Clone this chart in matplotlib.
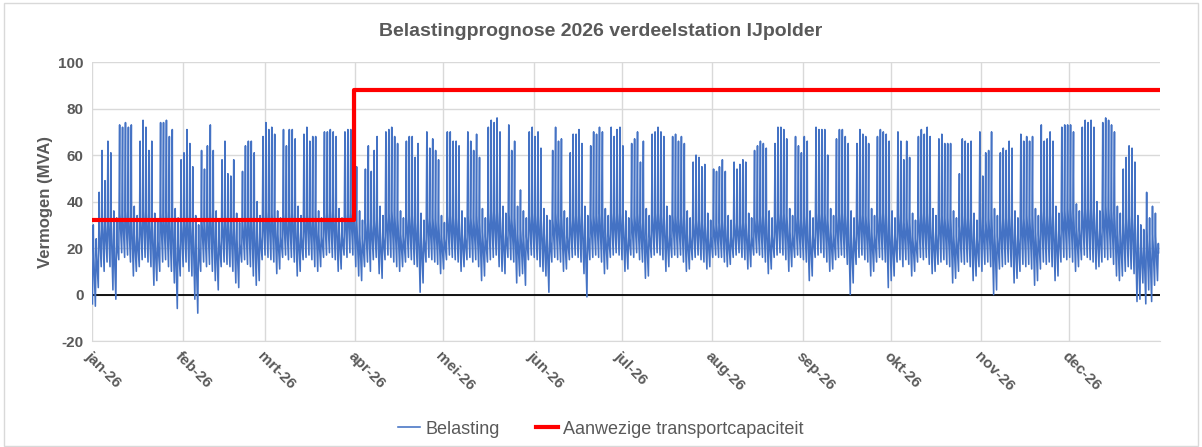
import numpy as np
import matplotlib
matplotlib.use('Agg')
import matplotlib.pyplot as plt
from matplotlib.patches import Rectangle

plt.rcParams['font.family'] = ['Liberation Sans', 'DejaVu Sans']
plt.rcParams['axes.unicode_minus'] = False

# maanden op de x-as (dag van het jaar waarop de maand begint)
maand_labels = ['jan-26', 'feb-26', 'mrt-26', 'apr-26', 'mei-26', 'jun-26',
                'jul-26', 'aug-26', 'sep-26', 'okt-26', 'nov-26', 'dec-26']
maand_start = [0, 31, 59, 90, 120, 151, 181, 212, 243, 273, 304, 334]

# dagpiek (MVA), per week ma..zo, eerste rij = za/zo van de eerste week
dag_max = [
    30, 24,
    44, 62, 49, 66, 61, 36, 33,
    73, 72, 74, 72, 73, 38, 34,
    66, 75, 72, 62, 66, 35, 32,
    74, 74, 75, 68, 71, 37, 33,
    58, 61, 71, 65, 55, 34, 30,
    62, 54, 64, 73, 62, 36, 32,
    58, 66, 52, 51, 58, 35, 31,
    53, 64, 66, 66, 61, 40, 34,
    68, 74, 71, 72, 69, 36, 33,
    71, 64, 71, 71, 67, 38, 34,
    69, 72, 66, 68, 68, 36, 33,
    70, 70, 71, 70, 68, 37, 33,
    70, 71, 71, 74, 55, 36, 32,
    54, 64, 53, 62, 68, 38, 34,
    70, 71, 72, 68, 65, 36, 33,
    66, 68, 68, 59, 65, 35, 32,
    70, 63, 67, 62, 58, 34, 31,
    70, 70, 66, 66, 64, 36, 33,
    70, 66, 62, 69, 59, 37, 33,
    72, 75, 74, 76, 70, 38, 35,
    73, 62, 66, 38, 45, 36, 33,
    70, 72, 68, 70, 63, 37, 34,
    32, 62, 72, 66, 67, 36, 33,
    61, 69, 69, 71, 65, 38, 34,
    64, 70, 69, 72, 70, 37, 34,
    72, 68, 71, 72, 64, 36, 33,
    65, 67, 70, 57, 66, 37, 34,
    69, 70, 72, 70, 68, 38, 34,
    68, 69, 66, 68, 65, 36, 33,
    57, 60, 59, 55, 56, 35, 32,
    54, 53, 55, 58, 53, 34, 32,
    57, 54, 56, 58, 57, 35, 33,
    62, 64, 66, 65, 63, 36, 33,
    65, 72, 72, 71, 67, 37, 34,
    68, 64, 61, 68, 66, 36, 33,
    72, 71, 71, 71, 60, 37, 34,
    67, 71, 71, 68, 65, 36, 33,
    65, 71, 69, 68, 65, 37, 34,
    68, 71, 70, 69, 66, 36, 33,
    70, 66, 58, 66, 59, 35, 32,
    68, 71, 69, 72, 68, 37, 34,
    67, 69, 65, 65, 65, 36, 33,
    52, 67, 66, 65, 66, 35, 32,
    70, 51, 61, 62, 70, 37, 34,
    61, 63, 62, 66, 63, 36, 33,
    69, 66, 68, 66, 68, 37, 34,
    73, 66, 67, 70, 66, 38, 35,
    72, 73, 73, 73, 70, 39, 36,
    72, 75, 74, 75, 72, 40, 36,
    74, 76, 75, 73, 70, 38, 35,
    54, 59, 64, 63, 57, 34, 30,
    28, 44, 33, 38, 35, 22,
]

# nachtminimum (MVA)
dag_min = [
    -4, -5,
    3, 12, 10, 14, 12, 2, -2,
    15, 18, 16, 17, 14, 8, 10,
    12, 15, 16, 14, 12, 4, 6,
    10, 14, 15, 12, 10, 5, -6,
    8, 12, 14, 10, 8, -2, -8,
    10, 14, 12, 13, 10, 6, 2,
    12, 14, 13, 12, 10, 5, 3,
    14, 15, 13, 12, 8, 4, 6,
    15, 17, 16, 15, 14, 9, 11,
    16, 17, 15, 16, 14, 8, 10,
    15, 16, 17, 15, 12, 10, 12,
    16, 17, 18, 16, 15, 10, 11,
    17, 16, 18, 17, 12, 8, 6,
    12, 14, 10, 15, 16, 9, 7,
    15, 17, 16, 14, 12, 10, 12,
    14, 16, 15, 13, 12, 1, 5,
    14, 16, 15, 14, 13, 9, 11,
    15, 17, 16, 15, 14, 10, 12,
    15, 16, 14, 15, 12, 6, 8,
    14, 15, 16, 17, 12, 10, 9,
    16, 15, 14, 5, 8, 9, 4,
    15, 17, 16, 15, 12, 10, 8,
    1, 14, 16, 15, 14, 10, 11,
    15, 16, 17, 16, 14, 9, -1,
    15, 16, 17, 16, 14, 9, 11,
    16, 17, 18, 17, 15, 10, 11,
    17, 16, 18, 15, 14, 7, 8,
    16, 17, 18, 17, 15, 10, 12,
    16, 17, 16, 17, 14, 10, 11,
    15, 16, 17, 15, 14, 11, 12,
    16, 17, 16, 16, 14, 12, 13,
    16, 17, 18, 16, 15, 11, 12,
    17, 18, 17, 16, 14, 9, 11,
    16, 17, 18, 17, 15, 10, 12,
    16, 17, 16, 15, 14, 6, 8,
    16, 17, 18, 16, 14, 10, 11,
    15, 16, 17, 16, 13, 0, 5,
    13, 16, 17, 15, 14, 8, 10,
    14, 16, 15, 14, 3, 6, 8,
    14, 15, 12, 15, 13, 8, 10,
    14, 16, 15, 16, 13, 9, 10,
    13, 14, 15, 13, 12, 5, 7,
    10, 14, 13, 14, 12, 6, 8,
    12, 10, 13, 14, 12, 0, 2,
    11, 12, 13, 14, 12, 5, 7,
    10, 13, 12, 13, 11, 4, 6,
    11, 14, 13, 14, 12, 6, 8,
    14, 16, 15, 16, 14, 10, 12,
    15, 17, 16, 15, 14, 11, 12,
    14, 16, 15, 16, 13, 8, 6,
    8, 10, 12, 11, 9, -3, -2,
    5, -4, 2, -3, 4, 6,
]

# belasting in de middag/avond na de piek (MVA)
dag_basis = [
    20, 18,
    28, 33, 30, 34, 32, 24, 22,
    35, 34, 36, 34, 33, 26, 25,
    33, 36, 35, 32, 33, 24, 23,
    35, 34, 36, 33, 34, 25, 22,
    31, 33, 35, 32, 30, 22, 20,
    33, 31, 34, 36, 33, 25, 23,
    32, 34, 31, 30, 32, 24, 22,
    31, 33, 34, 34, 32, 27, 25,
    34, 36, 35, 35, 34, 26, 25,
    35, 33, 35, 35, 34, 27, 25,
    34, 35, 33, 34, 34, 26, 25,
    35, 35, 36, 35, 34, 27, 25,
    35, 36, 35, 36, 31, 26, 24,
    31, 33, 30, 32, 34, 27, 25,
    34, 35, 36, 34, 33, 26, 25,
    33, 34, 34, 31, 33, 25, 24,
    34, 32, 33, 32, 31, 25, 24,
    34, 34, 33, 33, 32, 26, 25,
    34, 33, 32, 34, 31, 27, 25,
    35, 36, 35, 36, 34, 27, 26,
    35, 32, 33, 26, 28, 26, 25,
    34, 35, 34, 34, 32, 27, 26,
    24, 32, 35, 33, 34, 26, 25,
    32, 34, 34, 35, 33, 27, 26,
    33, 34, 34, 35, 34, 27, 26,
    35, 34, 35, 35, 33, 26, 25,
    33, 34, 35, 31, 33, 27, 26,
    34, 35, 35, 34, 34, 27, 26,
    34, 34, 33, 34, 33, 26, 25,
    31, 32, 32, 31, 31, 26, 25,
    30, 30, 31, 32, 30, 25, 25,
    31, 30, 31, 32, 31, 26, 25,
    33, 33, 34, 34, 33, 26, 25,
    33, 35, 35, 35, 34, 27, 26,
    34, 33, 32, 34, 33, 26, 25,
    35, 35, 35, 35, 32, 27, 26,
    34, 35, 35, 34, 33, 26, 25,
    33, 35, 34, 34, 33, 27, 26,
    34, 35, 35, 34, 33, 26, 25,
    35, 33, 31, 33, 31, 25, 24,
    34, 35, 34, 35, 34, 27, 26,
    34, 34, 33, 33, 33, 26, 25,
    30, 34, 33, 33, 33, 25, 24,
    35, 30, 32, 33, 35, 27, 25,
    32, 33, 33, 34, 33, 26, 25,
    34, 33, 34, 33, 34, 27, 26,
    36, 34, 34, 35, 34, 28, 27,
    36, 36, 37, 37, 35, 29, 28,
    36, 37, 37, 37, 36, 29, 28,
    37, 38, 37, 36, 35, 28, 27,
    31, 33, 34, 33, 31, 24, 22,
    23, 28, 24, 26, 25, 18,
]

# aanwezige transportcapaciteit (MVA), wijzigt eind maart
cap_dagen = [0, 89.4, 365]
cap_mva = [32, 88, 88]

# dagprofiel opbouwen: nacht (04u), piek (11u), middag (13u)
n_dag = len(dag_max)
t = []
belasting = []
for d in range(n_dag):
    t += [d + 4 / 24, d + 11 / 24, d + 13 / 24]
    belasting += [dag_min[d], dag_max[d], dag_basis[d]]

grijs = '#595959'
fig = plt.figure(figsize=(12.02, 4.47), dpi=100)
ax = fig.add_axes([0.0765, 0.237, 0.8885, 0.624])

ax.plot(t, belasting, color='#4472C4', lw=1.15, label='Belasting', zorder=3)
ax.plot(cap_dagen, cap_mva, color='#FF0000', lw=3, drawstyle='steps-post',
        label='Aanwezige transportcapaciteit', zorder=4)
ax.axhline(0, color='black', lw=1.3, zorder=2)

ax.set_xlim(0, 365)
ax.set_ylim(-20, 100)
ax.set_yticks(range(-20, 101, 20))
ax.set_xticks(maand_start)
ax.set_xticklabels(maand_labels, rotation=-45, ha='left', va='top',
                   rotation_mode='anchor')
ax.grid(True, color='#d9d9d9', lw=1.0, zorder=0)
ax.tick_params(length=0, labelsize=11, labelcolor=grijs, pad=6)
for lab in ax.get_xticklabels() + ax.get_yticklabels():
    lab.set_fontweight('bold')
for s in ax.spines.values():
    s.set_visible(False)
ax.spines['bottom'].set_visible(True)
ax.spines['bottom'].set_color('#d9d9d9')

ax.set_ylabel('Vermogen (MVA)', fontsize=12, fontweight='bold', color=grijs)
fig.text(0.5, 0.93, 'Belastingprognose 2026 verdeelstation IJpolder',
         ha='center', va='center', fontsize=14, fontweight='bold', color=grijs)

fig.legend(loc='center', bbox_to_anchor=(0.5, 0.04), ncol=2, frameon=False,
           fontsize=13, labelcolor=grijs, handlelength=1.2, handletextpad=0.3,
           columnspacing=2)

fig.add_artist(Rectangle((0.003, 0.003), 0.994, 0.99, transform=fig.transFigure,
                         fill=False, edgecolor='#d9d9d9', lw=1))

fig.savefig('out.png', dpi=100)
